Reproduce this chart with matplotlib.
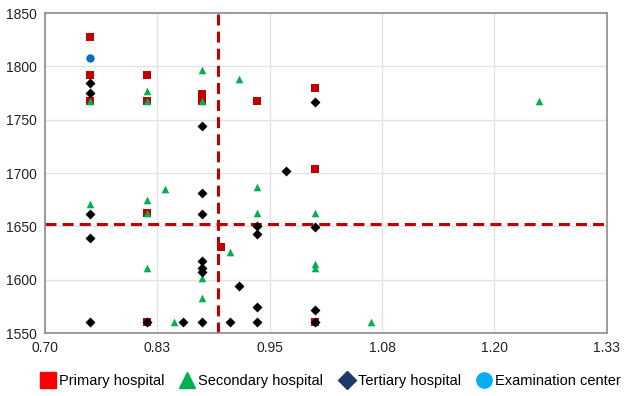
import matplotlib
matplotlib.use("Agg")
import matplotlib.pyplot as plt
import numpy as np
from matplotlib.lines import Line2D

plt.rcParams['font.family'] = ['Liberation Sans', 'DejaVu Sans']

# data
primary_x = [0.750, 0.750, 0.750, 0.814, 0.814, 0.814, 0.814, 0.876, 0.876, 0.897, 0.938, 1.003, 1.003, 1.003]
primary_y = [1828, 1792, 1768, 1792, 1768, 1663, 1560, 1774, 1768, 1631, 1768, 1780, 1704, 1560]

secondary_x = [0.750, 0.750, 0.814, 0.814, 0.814, 0.814, 0.814, 0.834, 0.845, 0.876, 0.876, 0.876,
               0.876, 0.907, 0.918, 0.938, 0.938, 1.003, 1.003, 1.003, 1.065, 1.254]
secondary_y = [1768, 1671, 1777, 1768, 1675, 1663, 1611, 1685, 1560, 1797, 1768, 1602,
               1583, 1626, 1788, 1687, 1663, 1663, 1615, 1611, 1560, 1768]

tertiary_x = [0.750, 0.750, 0.750, 0.750, 0.750, 0.814, 0.855, 0.876, 0.876, 0.876, 0.876, 0.876,
              0.876, 0.876, 0.908, 0.917, 0.938, 0.938, 0.938, 0.938, 0.970, 1.003, 1.003, 1.003, 1.003]
tertiary_y = [1784, 1775, 1662, 1639, 1560, 1560, 1560, 1744, 1681, 1662, 1618, 1611,
              1607, 1560, 1560, 1594, 1650, 1643, 1574, 1560, 1702, 1767, 1649, 1572, 1560]

exam_x = [0.750]
exam_y = [1808]

cut_x = 0.894
cut_y = 1652

x_ticks = np.linspace(0.70, 1.33, 6)
y_ticks = [1550, 1600, 1650, 1700, 1750, 1800, 1850]

fig = plt.figure(figsize=(6.32, 3.96), dpi=100)
ax = fig.add_axes([0.0712, 0.159, 0.889, 0.808])

ax.scatter(primary_x, primary_y, marker='s', s=28, color='#C00000', linewidths=0, zorder=3)
ax.scatter(secondary_x, secondary_y, marker='^', s=30, color='#00B050', linewidths=0, zorder=4)
ax.scatter(tertiary_x, tertiary_y, marker='D', s=26, color='black', linewidths=0, zorder=5)
ax.scatter(exam_x, exam_y, marker='o', s=36, color='#0070C0', linewidths=0, zorder=5)

# cut-off lines
ax.axvline(cut_x, color='#C00000', lw=2.2, ls=(0, (3.6, 2.0)), zorder=2)
ax.axhline(cut_y, color='#C00000', lw=2.2, ls=(0, (3.6, 2.0)), zorder=2)

ax.set_xlim(0.70, 1.33)
ax.set_ylim(1550, 1850)
ax.set_xticks(x_ticks)
ax.set_xticklabels([f"{t:.2f}" for t in x_ticks])
ax.set_yticks(y_ticks)
ax.tick_params(length=0, labelsize=10, pad=6, colors='#222222')
ax.grid(True, color='#E3E3E3', lw=1)
ax.set_axisbelow(True)
for s in ax.spines.values():
    s.set_color('#8C8C8C')
    s.set_linewidth(1.2)

handles = [
    Line2D([], [], marker='s', ls='none', color='#FF0000', markersize=11, label='Primary hospital'),
    Line2D([], [], marker='^', ls='none', color='#00B050', markersize=12, label='Secondary hospital'),
    Line2D([], [], marker='D', ls='none', color='#1F3864', markersize=9, label='Tertiary hospital'),
    Line2D([], [], marker='o', ls='none', color='#00B0F0', markersize=11, label='Examination center'),
]
fig.legend(handles=handles, loc='center', bbox_to_anchor=(0.522, 0.037), ncol=4, frameon=False,
           fontsize=10.5, handletextpad=0.15, columnspacing=1.0, handlelength=1.2)

fig.savefig("out.png", dpi=100)
